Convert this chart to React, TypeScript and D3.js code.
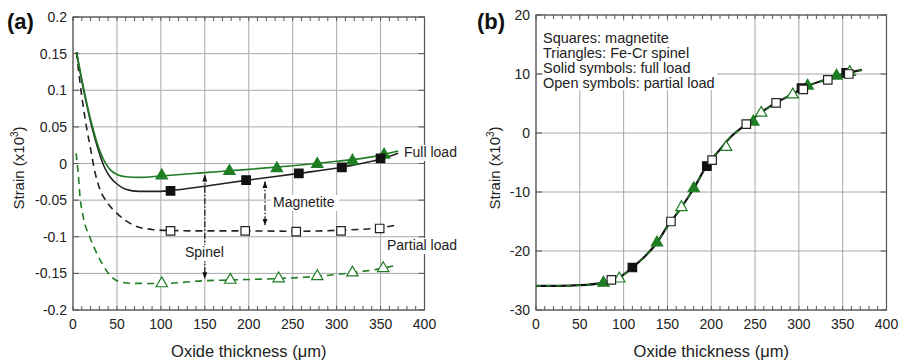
import React from 'react';
import * as d3 from 'd3';

// ---------- shared axis content ----------
const X_TICKS = [0, 50, 100, 150, 200, 250, 300, 350, 400];
const X_MINOR = d3.range(0, 401, 10);

const A_Y_TICKS = [0.2, 0.15, 0.1, 0.05, 0, -0.05, -0.1, -0.15, -0.2];
const A_Y_LABELS = ['0.2', '0.15', '0.1', '0.05', '0', '-0.05', '-0.1', '-0.15', '-0.2'];
const B_Y_TICKS = [20, 10, 0, -10, -20, -30];
const B_Y_LABELS = ['20', '10', '0', '-10', '-20', '-30'];

// ---------- panel (a): strain vs oxide thickness ----------
// fitted curves [thickness µm, strain x10^3]
const fullSpinelCurve: [number, number][] = [
  [4, 0.152], [10, 0.115], [15, 0.086], [20, 0.06], [25, 0.038], [30, 0.019], [35, 0.005],
  [42, -0.008], [50, -0.015], [60, -0.018], [75, -0.019], [100, -0.017], [150, -0.0125],
  [200, -0.008], [250, -0.003], [300, 0.003], [340, 0.009], [370, 0.017],
];
const fullMagnetiteCurve: [number, number][] = [
  [4, 0.152], [10, 0.113], [15, 0.084], [20, 0.057], [25, 0.034], [30, 0.014], [35, -0.003],
  [42, -0.018], [50, -0.028], [60, -0.035], [75, -0.038], [100, -0.038], [111, -0.037],
  [150, -0.031], [197, -0.023], [257, -0.0135], [306, -0.005], [350, 0.006], [370, 0.014],
];
const partialMagnetiteCurve: [number, number][] = [
  [4, 0.152], [8, 0.11], [12, 0.075], [16, 0.045], [20, 0.02], [25, -0.012], [30, -0.033],
  [40, -0.055], [50, -0.068], [60, -0.078], [75, -0.087], [90, -0.09], [111, -0.0915],
  [150, -0.092], [196, -0.092], [254, -0.0925], [305, -0.091], [349, -0.088], [368, -0.084],
];
const partialSpinelCurve: [number, number][] = [
  [3.5, 0.014], [6, -0.015], [8, -0.045], [12, -0.075], [19, -0.1], [28, -0.125], [38, -0.146],
  [50, -0.16], [65, -0.1635], [101, -0.1638], [150, -0.16], [179, -0.159], [234, -0.157],
  [278, -0.154], [318, -0.149], [353, -0.143], [368, -0.139],
];

// measured points
const fullSpinelX = [101, 178, 232, 278, 318, 354];
const fullSpinelY = [-0.0165, -0.0105, -0.0067, -0.0008, 0.0037, 0.0119];
const fullMagnetiteX = [111, 197, 257, 306, 350];
const fullMagnetiteY = [-0.0373, -0.0227, -0.0135, -0.0053, 0.007];
const partialMagnetiteX = [111, 196, 254, 305, 349];
const partialMagnetiteY = [-0.0919, -0.0919, -0.093, -0.092, -0.0887];
const partialSpinelX = [101, 179, 234, 278, 318, 353];
const partialSpinelY = [-0.1638, -0.159, -0.157, -0.154, -0.149, -0.143];

// ---------- panel (b): all data on a common curve ----------
const masterCurve: [number, number][] = [
  [0, -25.9], [25, -25.9], [50, -25.8], [75, -25.4], [90, -24.8], [100, -24.0], [110, -22.8],
  [125, -20.8], [138, -18.6], [150, -15.8], [165, -12.8], [180, -9.4], [195, -5.5], [210, -2.8],
  [220, -1.0], [240, 1.5], [257, 3.5], [275, 5.2], [295, 6.8], [310, 8.0], [330, 9.0],
  [350, 10.0], [372, 10.7],
];
const bFullTriX = [77, 138, 180, 248, 310, 343];
const bFullTriY = [-25.4, -18.6, -9.4, 1.9, 8.0, 9.7];
const bFullSqX = [110, 195, 303, 354];
const bFullSqY = [-22.8, -5.6, 7.6, 10.2];
const bOpenSqX = [86, 154, 201, 240, 274, 305, 333, 357];
const bOpenSqY = [-24.9, -15.0, -4.6, 1.5, 5.1, 7.4, 9.0, 10.0];
const bOpenTriX = [95, 166, 217, 257, 293, 358];
const bOpenTriY = [-24.7, -12.6, -2.4, 3.4, 6.5, 10.3];

const LEGEND_LINES = [
  'Squares: magnetite',
  'Triangles: Fe-Cr spinel',
  'Solid symbols: full load',
  'Open symbols: partial load',
];

const GREEN = '#1f7d24';
const FONT = 'Liberation Sans, Arial, Helvetica, sans-serif';
const triPath = d3.symbol(d3.symbolTriangle, 56)()!;
const sqPath = d3.symbol(d3.symbolSquare, 72)()!;

type Scale = d3.ScaleLinear<number, number>;

function Frame({ x, y, yTicks, yLabels, title, titleX, labelX }: {
  x: Scale; y: Scale; yTicks: number[]; yLabels: string[]; title: string; titleX: number; labelX: number;
}) {
  const [x0, x1] = x.range();
  const [y0, y1] = y.range(); // y0 bottom, y1 top
  return (
    <g>
      {X_TICKS.map((t) => (
        <line key={'gx' + t} x1={x(t)} x2={x(t)} y1={y0} y2={y1} stroke="#a8a8a8" strokeWidth={1} />
      ))}
      {yTicks.map((t) => (
        <line key={'gy' + t} x1={x0} x2={x1} y1={y(t)} y2={y(t)} stroke="#a8a8a8" strokeWidth={1} />
      ))}
      {X_MINOR.map((t) => (
        <g key={'mx' + t} stroke="#555" strokeWidth={1}>
          <line x1={x(t)} x2={x(t)} y1={y0} y2={y0 - 4} />
          <line x1={x(t)} x2={x(t)} y1={y1} y2={y1 + 4} />
        </g>
      ))}
      {yTicks.map((t) => (
        <g key={'my' + t} stroke="#555" strokeWidth={1}>
          <line x1={x0} x2={x0 + 6} y1={y(t)} y2={y(t)} />
          <line x1={x1} x2={x1 - 6} y1={y(t)} y2={y(t)} />
        </g>
      ))}
      <rect x={x0} y={y1} width={x1 - x0} height={y0 - y1} fill="none" stroke="#555" strokeWidth={1.2} />
      {X_TICKS.map((t) => (
        <text key={'lx' + t} x={x(t)} y={y0 + 19} textAnchor="middle" fontSize={14} fill="#222">
          {t}
        </text>
      ))}
      {yTicks.map((t, i) => (
        <text key={'ly' + t} x={x0 - 6} y={y(t) + 5} textAnchor="end" fontSize={14} fill="#222">
          {yLabels[i]}
        </text>
      ))}
      <text x={(x0 + x1) / 2} y={357} textAnchor="middle" fontSize={16.5} fill="#222">
        Oxide thickness (μm)
      </text>
      <text transform={`translate(${labelX},168) rotate(-90)`} textAnchor="middle" fontSize={15} fill="#222">
        Strain (x10<tspan dy={-6} fontSize={10}>3</tspan><tspan dy={6}>)</tspan>
      </text>
      <text x={titleX} y={29} fontSize={22} fontWeight="bold" fill="#111">{title}</text>
    </g>
  );
}

function Markers({ xs, ys, x, y, path, fill, stroke }: {
  xs: number[]; ys: number[]; x: Scale; y: Scale; path: string; fill: string; stroke: string;
}) {
  return (
    <g>
      {xs.map((v, i) => (
        <path key={i} d={path} transform={`translate(${x(v)},${y(ys[i])})`} fill={fill} stroke={stroke} strokeWidth={1.2} />
      ))}
    </g>
  );
}

function LabelBox({ x, y, text, w }: { x: number; y: number; text: string; w: number }) {
  return (
    <g>
      <rect x={x - 2} y={y - 12} width={w} height={16} fill="#fff" />
      <text x={x} y={y} fontSize={14} fill="#222">{text}</text>
    </g>
  );
}

function ArrowV({ xp, ya, yb }: { xp: number; ya: number; yb: number }) {
  return (
    <line x1={xp} x2={xp} y1={ya} y2={yb} stroke="#111" strokeWidth={1.2} strokeDasharray="6,2,1.5,2"
      markerStart="url(#ah)" markerEnd="url(#ah)" />
  );
}

export default function App() {
  const xA = d3.scaleLinear().domain([0, 400]).range([73, 424.5]);
  const yA = d3.scaleLinear().domain([-0.2, 0.2]).range([310, 17]);
  const xB = d3.scaleLinear().domain([0, 400]).range([536, 886.5]);
  const yB = d3.scaleLinear().domain([-30, 20]).range([310, 15]);

  const lineA = d3.line<[number, number]>().x((d) => xA(d[0])).y((d) => yA(d[1])).curve(d3.curveMonotoneX);
  const lineB = d3.line<[number, number]>().x((d) => xB(d[0])).y((d) => yB(d[1])).curve(d3.curveMonotoneX);

  return (
    <svg width={907} height={363} style={{ position: 'absolute', left: 0, top: 0, background: '#fff' }} fontFamily={FONT}>
      <defs>
        <marker id="ah" viewBox="0 0 10 10" refX={9} refY={5} markerWidth={7} markerHeight={9} orient="auto-start-reverse" markerUnits="userSpaceOnUse">
          <path d="M0,1.5 L10,5 L0,8.5 Z" fill="#111" />
        </marker>
      </defs>

      {/* Panel (a) */}
      <Frame x={xA} y={yA} yTicks={A_Y_TICKS} yLabels={A_Y_LABELS} title="(a)" titleX={7} labelX={24} />
      <path d={lineA(partialMagnetiteCurve)!} fill="none" stroke="#222" strokeWidth={1.6} strokeDasharray="7,5" />
      <path d={lineA(partialSpinelCurve)!} fill="none" stroke={GREEN} strokeWidth={1.6} strokeDasharray="7,5" />
      <path d={lineA(fullMagnetiteCurve)!} fill="none" stroke="#222" strokeWidth={1.6} />
      <path d={lineA(fullSpinelCurve)!} fill="none" stroke={GREEN} strokeWidth={1.6} />

      <ArrowV xp={xA(150)} ya={yA(-0.016)} yb={yA(-0.157)} />
      <ArrowV xp={xA(218.5)} ya={yA(-0.025)} yb={yA(-0.084)} />

      <Markers xs={fullSpinelX} ys={fullSpinelY} x={xA} y={yA} path={triPath} fill={GREEN} stroke={GREEN} />
      <Markers xs={fullMagnetiteX} ys={fullMagnetiteY} x={xA} y={yA} path={sqPath} fill="#111" stroke="#111" />
      <Markers xs={partialMagnetiteX} ys={partialMagnetiteY} x={xA} y={yA} path={sqPath} fill="#fff" stroke="#222" />
      <Markers xs={partialSpinelX} ys={partialSpinelY} x={xA} y={yA} path={triPath} fill="#fff" stroke={GREEN} />

      <LabelBox x={404} y={157} text="Full load" w={58} />
      <LabelBox x={387} y={250} text="Partial load" w={74} />
      <LabelBox x={273} y={207} text="Magnetite" w={68} />
      <LabelBox x={185} y={257} text="Spinel" w={46} />

      {/* Panel (b) */}
      <Frame x={xB} y={yB} yTicks={B_Y_TICKS} yLabels={B_Y_LABELS} title="(b)" titleX={477} labelX={500} />
      <path d={lineB(masterCurve)!} fill="none" stroke="#111" strokeWidth={2.2} />
      <path d={lineB(masterCurve)!} fill="none" stroke={GREEN} strokeWidth={1.4} strokeDasharray="5,5" />

      <Markers xs={bFullTriX} ys={bFullTriY} x={xB} y={yB} path={triPath} fill={GREEN} stroke={GREEN} />
      <Markers xs={bFullSqX} ys={bFullSqY} x={xB} y={yB} path={sqPath} fill="#111" stroke="#111" />
      <Markers xs={bOpenTriX} ys={bOpenTriY} x={xB} y={yB} path={triPath} fill="#fff" stroke={GREEN} />
      <Markers xs={bOpenSqX} ys={bOpenSqY} x={xB} y={yB} path={sqPath} fill="#fff" stroke="#222" />

      <rect x={xB(0) + 7} y={yB(20) + 6} width={174} height={69} fill="#fff" />
      {LEGEND_LINES.map((t, i) => (
        <text key={t} x={xB(0) + 7} y={43 + i * 15} fontSize={14.5} fill="#222">{t}</text>
      ))}
    </svg>
  );
}
